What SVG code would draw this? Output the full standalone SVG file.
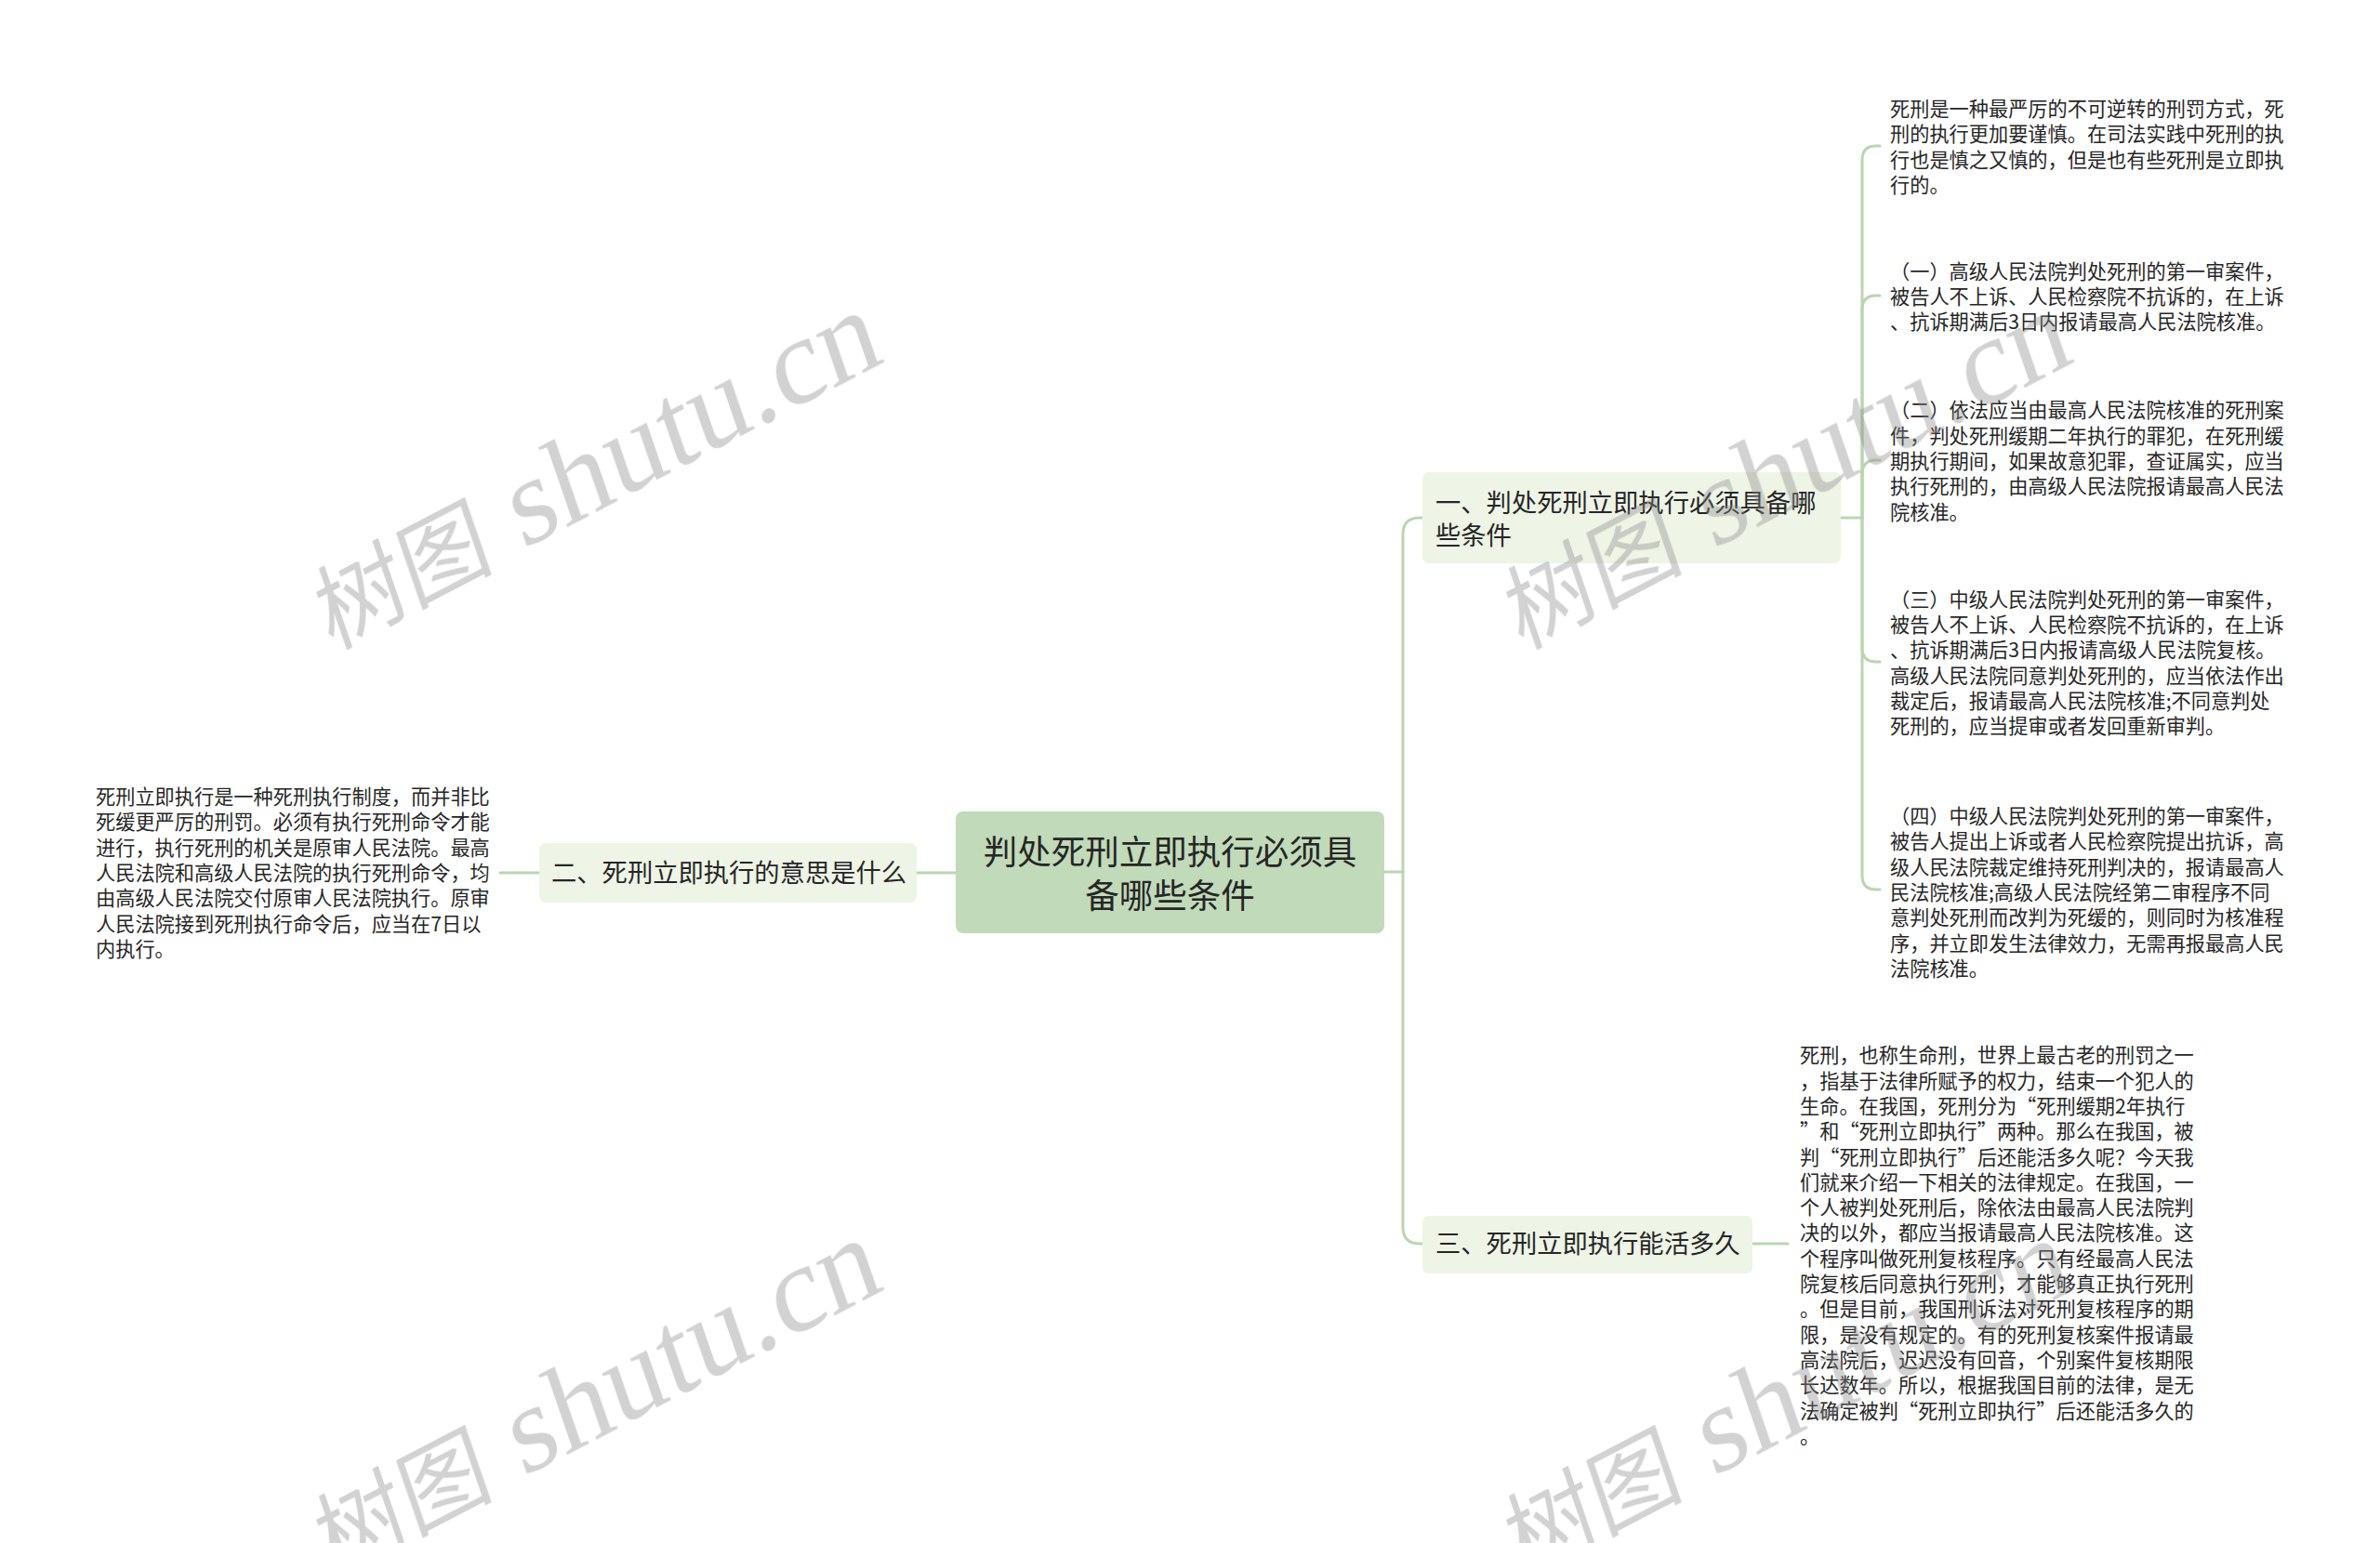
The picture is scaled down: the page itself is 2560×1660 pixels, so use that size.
<svg xmlns="http://www.w3.org/2000/svg" width="2560" height="1660" viewBox="0 0 2560 1660">
<style>
.bg{fill:#ffffff}
.link{fill:none;stroke:#bad5b2;stroke-width:3;stroke-linecap:round}
.root{fill:#c1dab9}
.sub{fill:#eef4e6}
.t{font-family:"Noto Sans CJK SC","Noto Sans",sans-serif;fill:#262626}
.rt{font-size:36.5px}
.st{font-size:27.3px}
.lt{font-size:21.2px}
.wm{fill:#888888;opacity:0.38}
.wmc{font-family:"Noto Sans CJK SC",sans-serif;font-size:100px}
.wml{font-family:"Liberation Serif",serif;font-size:131px}
</style>
<rect class="bg" x="0" y="0" width="2560" height="1660"/>

<g id="connectors">
  <path class="link" d="M1489 938 H1509"/>
  <path class="link" d="M1509 938 V575 Q1509 557 1527 557 H1530"/>
  <path class="link" d="M1509 938 V1320 Q1509 1338 1527 1338 H1530"/>
  <path class="link" d="M1028 939 H986"/>
  <path class="link" d="M580 939 H538"/>
  <path class="link" d="M1885 1338 H1923"/>
  <path class="link" d="M1980 557 H2003"/>
  <path class="link" d="M2003 557 V172 Q2003 157 2018 157 H2022"/>
  <path class="link" d="M2003 557 V333 Q2003 318 2018 318 H2022"/>
  <path class="link" d="M2003 557 V510 Q2003 495 2018 495 H2022"/>
  <path class="link" d="M2003 557 V697 Q2003 712 2018 712 H2022"/>
  <path class="link" d="M2003 557 V942 Q2003 957 2018 957 H2022"/>
</g>

<g id="root">
  <rect class="root" x="1028" y="873" width="461" height="131" rx="8"/>
  <text class="t rt" text-anchor="middle" x="1258.5" y="930">判处死刑立即执行必须具</text>
  <text class="t rt" text-anchor="middle" x="1258.5" y="977">备哪些条件</text>
</g>

<g id="branch1">
  <rect class="sub" x="1530" y="508" width="450" height="98" rx="7"/>
  <text class="t st"><tspan x="1544" y="551">一、判处死刑立即执行必须具备哪</tspan><tspan x="1544" y="586">些条件</tspan></text>
</g>

<g id="branch2">
  <rect class="sub" x="580" y="907" width="406" height="64" rx="7"/>
  <text class="t st" x="593" y="949">二、死刑立即执行的意思是什么</text>
</g>

<g id="branch3">
  <rect class="sub" x="1530" y="1308" width="355" height="62" rx="7"/>
  <text class="t st" x="1544" y="1348">三、死刑立即执行能活多久</text>
</g>

<g id="leaf2">
  <text class="t lt"><tspan x="103" y="865">死刑立即执行是一种死刑执行制度，而并非比</tspan><tspan x="103" dy="27.3">死缓更严厉的刑罚。必须有执行死刑命令才能</tspan><tspan x="103" dy="27.3">进行，执行死刑的机关是原审人民法院。最高</tspan><tspan x="103" dy="27.3">人民法院和高级人民法院的执行死刑命令，均</tspan><tspan x="103" dy="27.3">由高级人民法院交付原审人民法院执行。原审</tspan><tspan x="103" dy="27.3">人民法院接到死刑执行命令后，应当在7日以</tspan><tspan x="103" dy="27.3">内执行。</tspan></text>
</g>

<g id="leaf1a">
  <text class="t lt"><tspan x="2033" y="125">死刑是一种最严厉的不可逆转的刑罚方式，死</tspan><tspan x="2033" dy="27.3">刑的执行更加要谨慎。在司法实践中死刑的执</tspan><tspan x="2033" dy="27.3">行也是慎之又慎的，但是也有些死刑是立即执</tspan><tspan x="2033" dy="27.3">行的。</tspan></text>
</g>

<g id="leaf1b">
  <text class="t lt"><tspan x="2033" y="299.7">（一）高级人民法院判处死刑的第一审案件，</tspan><tspan x="2033" dy="27.3">被告人不上诉、人民检察院不抗诉的，在上诉</tspan><tspan x="2033" dy="27.3">、抗诉期满后3日内报请最高人民法院核准。</tspan></text>
</g>

<g id="leaf1c">
  <text class="t lt"><tspan x="2033" y="449.4">（二）依法应当由最高人民法院核准的死刑案</tspan><tspan x="2033" dy="27.3">件，判处死刑缓期二年执行的罪犯，在死刑缓</tspan><tspan x="2033" dy="27.3">期执行期间，如果故意犯罪，查证属实，应当</tspan><tspan x="2033" dy="27.3">执行死刑的，由高级人民法院报请最高人民法</tspan><tspan x="2033" dy="27.3">院核准。</tspan></text>
</g>

<g id="leaf1d">
  <text class="t lt"><tspan x="2033" y="652.8">（三）中级人民法院判处死刑的第一审案件，</tspan><tspan x="2033" dy="27.3">被告人不上诉、人民检察院不抗诉的，在上诉</tspan><tspan x="2033" dy="27.3">、抗诉期满后3日内报请高级人民法院复核。</tspan><tspan x="2033" dy="27.3">高级人民法院同意判处死刑的，应当依法作出</tspan><tspan x="2033" dy="27.3">裁定后，报请最高人民法院核准;不同意判处</tspan><tspan x="2033" dy="27.3">死刑的，应当提审或者发回重新审判。</tspan></text>
</g>

<g id="leaf1e">
  <text class="t lt"><tspan x="2033" y="886">（四）中级人民法院判处死刑的第一审案件，</tspan><tspan x="2033" dy="27.3">被告人提出上诉或者人民检察院提出抗诉，高</tspan><tspan x="2033" dy="27.3">级人民法院裁定维持死刑判决的，报请最高人</tspan><tspan x="2033" dy="27.3">民法院核准;高级人民法院经第二审程序不同</tspan><tspan x="2033" dy="27.3">意判处死刑而改判为死缓的，则同时为核准程</tspan><tspan x="2033" dy="27.3">序，并立即发生法律效力，无需再报最高人民</tspan><tspan x="2033" dy="27.3">法院核准。</tspan></text>
</g>

<g id="leaf3">
  <text class="t lt"><tspan x="1936" y="1143.3">死刑，也称生命刑，世界上最古老的刑罚之一</tspan><tspan x="1936" dy="27.3">，指基于法律所赋予的权力，结束一个犯人的</tspan><tspan x="1936" dy="27.3">生命。在我国，死刑分为“死刑缓期2年执行</tspan><tspan x="1936" dy="27.3">”和“死刑立即执行”两种。那么在我国，被</tspan><tspan x="1936" dy="27.3">判“死刑立即执行”后还能活多久呢？今天我</tspan><tspan x="1936" dy="27.3">们就来介绍一下相关的法律规定。在我国，一</tspan><tspan x="1936" dy="27.3">个人被判处死刑后，除依法由最高人民法院判</tspan><tspan x="1936" dy="27.3">决的以外，都应当报请最高人民法院核准。这</tspan><tspan x="1936" dy="27.3">个程序叫做死刑复核程序。只有经最高人民法</tspan><tspan x="1936" dy="27.3">院复核后同意执行死刑，才能够真正执行死刑</tspan><tspan x="1936" dy="27.3">。但是目前，我国刑诉法对死刑复核程序的期</tspan><tspan x="1936" dy="27.3">限，是没有规定的。有的死刑复核案件报请最</tspan><tspan x="1936" dy="27.3">高法院后，迟迟没有回音，个别案件复核期限</tspan><tspan x="1936" dy="27.3">长达数年。所以，根据我国目前的法律，是无</tspan><tspan x="1936" dy="27.3">法确定被判“死刑立即执行”后还能活多久的</tspan><tspan x="1936" dy="27.3">。</tspan></text>
</g>

<g id="watermarks" class="wm">
  <text transform="matrix(0.887 -0.462 0.326 0.946 356 699)"><tspan class="wmc">树图</tspan><tspan class="wml"> shutu.cn</tspan></text>
  <text transform="matrix(0.887 -0.462 0.326 0.946 1636 699)"><tspan class="wmc">树图</tspan><tspan class="wml"> shutu.cn</tspan></text>
  <text transform="matrix(0.887 -0.462 0.326 0.946 356 1697)"><tspan class="wmc">树图</tspan><tspan class="wml"> shutu.cn</tspan></text>
  <text transform="matrix(0.887 -0.462 0.326 0.946 1636 1697)"><tspan class="wmc">树图</tspan><tspan class="wml"> shutu.cn</tspan></text>
</g>
</svg>
